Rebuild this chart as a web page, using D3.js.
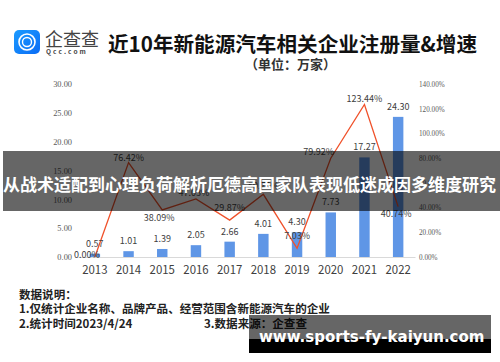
<!DOCTYPE html>
<html>
<head>
<meta charset="utf-8">
<script src="https://cdn.jsdelivr.net/npm/d3@7"></script>
<style>
    html, body { margin: 0; padding: 0; background: #fff; }
    svg { display: block; }
    text { font-family: "Noto Sans CJK SC", "Noto Sans", sans-serif; }
    .num { font-family: "Liberation Serif", serif; }
</style>
</head>
<body>
<svg id="chart" width="500" height="362"></svg>
<script>
var years = ['2013', '2014', '2015', '2016', '2017', '2018', '2019', '2020', '2021', '2022']
var counts = [0.57, 1.01, 1.39, 2.05, 2.66, 4.01, 4.30, 7.73, 17.27, 24.30]
var growth = [0, 76.42, 38.09, 47.03, 29.87, 50.75, 7.03, 79.92, 123.44, 40.74]
var leftTicks = [0, 5, 10, 15, 20, 25, 30]
var rightTicks = [0, 20, 40, 60, 80, 100, 120, 140]
var notes = ['数据说明：', '1.仅统计企业名称、品牌产品、经营范围含新能源汽车的企业', '2.统计时间2023/4/24']

var margin = { top: 84, right: 85, bottom: 105, left: 78 },
    width = 500 - margin.left - margin.right,
    height = 362 - margin.top - margin.bottom;

var svg = d3.select('#chart')
var g = svg.append('g').attr('transform', 'translate(' + margin.left + ',' + margin.top + ')')

var x = d3.scaleBand().domain(years).range([0, width]).paddingInner(0.69).paddingOuter(0.345)
var y = d3.scaleLinear().domain([0, 30]).range([height, 0])
var yRight = d3.scaleLinear().domain([0, 140]).range([height, 0])
function cx(year) { return x(year) + x.bandwidth() / 2 }

// logo
var logo = svg.append('g')
var logoGrad = svg.append('defs').append('linearGradient').attr('id', 'logoGrad')
    .attr('x1', 0).attr('y1', 0).attr('x2', 1).attr('y2', 1)
logoGrad.append('stop').attr('offset', 0).attr('stop-color', '#1c9bff')
logoGrad.append('stop').attr('offset', 1).attr('stop-color', '#0a6cf5')
logo.append('rect').attr('x', 14).attr('y', 30).attr('width', 26).attr('height', 24).attr('rx', 5).attr('fill', 'url(#logoGrad)')
logo.append('circle').attr('cx', 27).attr('cy', 42).attr('r', 8).attr('fill', 'none').attr('stroke', '#fff').attr('stroke-width', 1.6)
logo.append('circle').attr('cx', 27).attr('cy', 42).attr('r', 4.5).attr('fill', 'none').attr('stroke', '#fff').attr('stroke-width', 1.4)
logo.append('text').attr('x', 45).attr('y', 46).attr('font-size', 18).attr('fill', '#444').text('企查查')
logo.append('text').attr('x', 46).attr('y', 54).attr('font-size', 6.5).attr('font-weight', 700).attr('letter-spacing', 2.1).attr('fill', '#444').text('Qcc.com')

// title
svg.append('text').attr('x', 108).attr('y', 52).attr('font-size', 20.6).attr('font-weight', 700).attr('fill', '#111').text('近10年新能源汽车相关企业注册量&增速')
svg.append('text').attr('x', 245).attr('y', 69).attr('font-size', 13).attr('font-weight', 700).attr('fill', '#333').text('（单位：万家）')

// axes
var axisLeft = g.append('g').call(d3.axisLeft(y).tickValues(leftTicks).tickSize(0).tickPadding(6).tickFormat(d3.format('.2f')))
axisLeft.select('.domain').remove()
axisLeft.selectAll('text').attr('class', 'num').attr('font-size', 8.4).attr('fill', '#595959')

var axisRight = g.append('g').attr('transform', 'translate(' + width + ',0)')
    .call(d3.axisRight(yRight).tickValues(rightTicks).tickSize(0).tickPadding(4).tickFormat(function (d) { return d.toFixed(2) + '%' }))
axisRight.select('.domain').remove()
axisRight.selectAll('text').attr('class', 'num').attr('font-size', 7.2).attr('fill', '#595959')

var axisBottom = g.append('g').attr('transform', 'translate(0,' + height + ')')
    .call(d3.axisBottom(x).tickSize(0).tickPadding(9))
axisBottom.select('.domain').attr('stroke', '#d9d9d9')
axisBottom.selectAll('text').attr('font-size', 11.4).attr('fill', '#404040')

// bars
g.selectAll('.bar').data(counts).enter().append('rect')
    .attr('class', 'bar')
    .attr('x', function (d, i) { return x(years[i]) })
    .attr('y', function (d) { return y(d) })
    .attr('width', x.bandwidth())
    .attr('height', function (d) { return height - y(d) })
    .attr('fill', '#5f96e6')

// growth line
var valueline = d3.line()
    .x(function (d, i) { return cx(years[i]) })
    .y(function (d) { return yRight(d) })
g.append('path').datum(growth)
    .attr('d', valueline)
    .attr('fill', 'none')
    .attr('stroke', '#f0512a')
    .attr('stroke-width', 1.3)

// labels
g.selectAll('.countLabel').data(counts).enter().append('text')
    .attr('class', 'countLabel')
    .attr('x', function (d, i) { return cx(years[i]) })
    .attr('y', function (d) { return y(d) - 7 })
    .attr('text-anchor', 'middle')
    .attr('font-size', 9)
    .attr('fill', '#404040')
    .text(function (d) { return d.toFixed(2) })

// hand placed label offsets, same as the picture
var growthDy = [1, -2, 11, -3, -9, -5, -9, -3, -2, 10]
var growthDx = [-8, 0, -3, -2, 0, 0, 0, -12, 0, -2]
g.selectAll('.growthLabel').data(growth).enter().append('text')
    .attr('class', 'growthLabel')
    .attr('x', function (d, i) { return cx(years[i]) + growthDx[i] })
    .attr('y', function (d, i) { return yRight(d) + growthDy[i] })
    .attr('text-anchor', 'middle')
    .attr('font-size', 9)
    .attr('fill', '#404040')
    .text(function (d) { return d.toFixed(2) + '%' })

// notes
var noteG = svg.append('g').attr('font-size', 11.55).attr('font-weight', 700).attr('fill', '#222')
notes.forEach(function (line, i) {
    noteG.append('text').attr('x', 19).attr('y', 299 + i * 14.3).text(line)
})
noteG.append('text').attr('x', 204).attr('y', 327.6).text('3.数据来源：企查查')

// overlay band across the chart
svg.append('rect').attr('x', 3).attr('y', 151).attr('width', 497).attr('height', 60).attr('fill', '#000').attr('fill-opacity', 0.6)
svg.append('text').attr('x', 3).attr('y', 191).attr('font-size', 17).attr('font-weight', 700).attr('fill', '#fff')
    .text('从战术适配到心理负荷解析厄德高国家队表现低迷成因多维度研究')

// watermark bottom right
svg.append('rect').attr('x', 249).attr('y', 315).attr('width', 242).attr('height', 24).attr('fill', '#000').attr('fill-opacity', 0.6)
svg.append('rect').attr('x', 249).attr('y', 339).attr('width', 242).attr('height', 14).attr('fill', '#000')
svg.append('text').attr('x', 259).attr('y', 342).attr('font-size', 15).attr('font-weight', 700).attr('fill', '#fff')
    .style('font-family', '"DejaVu Sans", sans-serif').text('www.sports-fy-kaiyun.com')
</script>
</body>
</html>
